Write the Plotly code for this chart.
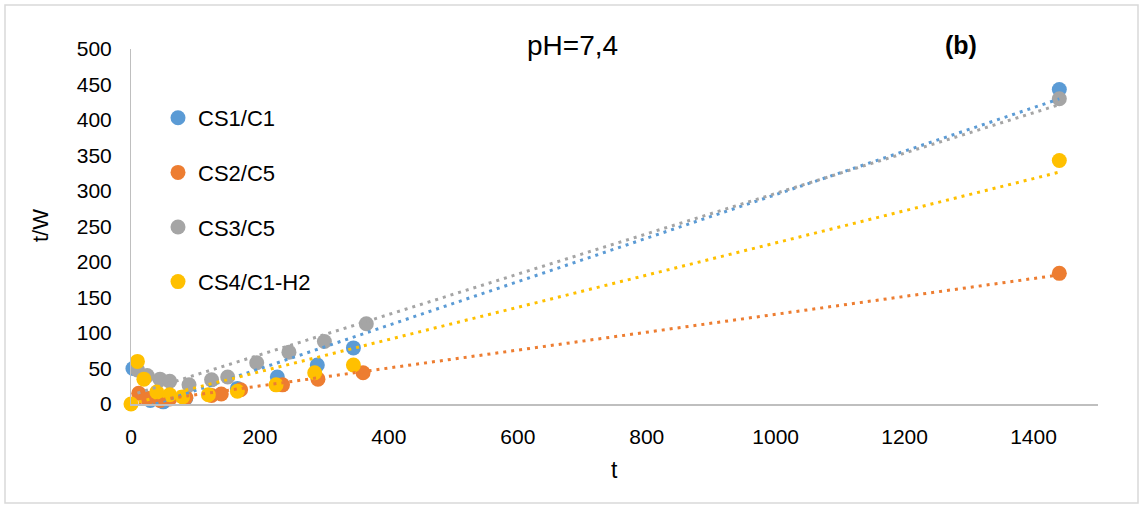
import numpy as np
import plotly.graph_objects as go

# t (min) and t/W values for each coating series
series_names = ["CS1/C1", "CS2/C5", "CS3/C5", "CS4/C1-H2"]
series_colors = ["#5B9BD5", "#ED7D31", "#A5A5A5", "#FFC000"]

t_cs1 = [3, 30, 50, 85, 165, 227, 289, 345, 1440]
w_cs1 = [50, 5, 3, 8, 22, 38, 55, 79, 443]

t_cs2 = [12, 25, 45, 60, 85, 125, 140, 170, 235, 290, 360, 1440]
w_cs2 = [15, 8, 5, 7, 9, 12, 14, 20, 27, 35, 44, 184]

t_cs3 = [10, 25, 45, 60, 90, 125, 150, 195, 245, 300, 365, 1440]
w_cs3 = [48, 40, 35, 32, 27, 34, 38, 58, 73, 88, 113, 430]

t_cs4 = [0, 10, 20, 40, 60, 80, 120, 165, 225, 285, 345, 1440]
w_cs4 = [0, 60, 35, 17, 13, 10, 13, 18, 27, 44, 55, 343]

x_ticks = [0, 200, 400, 600, 800, 1000, 1200, 1400]
y_ticks = [0, 50, 100, 150, 200, 250, 300, 350, 400, 450, 500]

all_t = [t_cs1, t_cs2, t_cs3, t_cs4]
all_w = [w_cs1, w_cs2, w_cs3, w_cs4]

W, H = 1144, 508
L, R, T, B = 131, 46, 49, 104
pw, ph = W - L - R, H - T - B


def px_x(p):
    return (p - L) / pw


def px_y(p):
    return (H - B - p) / ph


FONT = "Liberation Sans, Arial, sans-serif"

fig = go.Figure()

# markers
for name, col, t, w in zip(series_names, series_colors, all_t, all_w):
    fig.add_trace(go.Scatter(
        x=t, y=w, mode="markers", name=name,
        legendgroup=name,
        marker=dict(size=15, color=col, line=dict(width=0)),
        cliponaxis=False,
    ))

# linear least-squares trendlines, drawn over the markers
for name, col, t, w in zip(series_names, series_colors, all_t, all_w):
    ta = np.asarray(t, dtype=float)
    wa = np.asarray(w, dtype=float)
    slope, icpt = np.polyfit(ta, wa, 1)
    tx = np.array([ta.min(), ta.max()])
    fig.add_trace(go.Scatter(
        x=tx, y=slope * tx + icpt, mode="lines", showlegend=False,
        legendgroup=name, hoverinfo="skip",
        line=dict(color=col, width=3, dash="3px,5px"),
    ))

fig.update_layout(
    width=W, height=H, autosize=False,
    margin=dict(l=L, r=R, t=T, b=B, pad=0),
    paper_bgcolor="white", plot_bgcolor="white",
    font=dict(family=FONT, size=21, color="#000000"),
    xaxis=dict(
        range=[0, 1500], tickvals=x_ticks, ticktext=[str(v) for v in x_ticks],
        showgrid=False, zeroline=False, showline=True,
        linecolor="#BFBFBF", linewidth=1.5, ticks="",
        ticklabelstandoff=13, tickfont=dict(size=21),
    ),
    yaxis=dict(
        range=[0, 500], tickvals=y_ticks, ticktext=[str(v) for v in y_ticks],
        showgrid=False, zeroline=False, showline=True,
        linecolor="#BFBFBF", linewidth=1, ticks="",
        ticklabelstandoff=14, tickfont=dict(size=21),
    ),
    legend=dict(
        x=px_x(158), y=px_y(97), xanchor="left", yanchor="top",
        bgcolor="rgba(0,0,0,0)", borderwidth=0,
        font=dict(size=22), traceorder="grouped", tracegroupgap=23,
        itemwidth=30,
    ),
    shapes=[dict(
        type="rect", xref="paper", yref="paper",
        x0=px_x(5), x1=px_x(1138), y0=px_y(503), y1=px_y(5),
        line=dict(color="#D9D9D9", width=1.5), layer="below",
    )],
    annotations=[
        dict(text="pH=7,4", x=px_x(572), y=px_y(45), xref="paper", yref="paper",
             showarrow=False, font=dict(size=28), xanchor="center", yanchor="middle"),
        dict(text="<b>(b)</b>", x=px_x(961), y=px_y(45), xref="paper", yref="paper",
             showarrow=False, font=dict(size=25), xanchor="center", yanchor="middle"),
        dict(text="t/W", x=px_x(40), y=px_y(226), xref="paper", yref="paper",
             showarrow=False, textangle=-90, font=dict(size=22),
             xanchor="center", yanchor="middle"),
        dict(text="t", x=px_x(614), y=px_y(470), xref="paper", yref="paper",
             showarrow=False, font=dict(size=23), xanchor="center", yanchor="middle"),
    ],
)

fig.write_html("out.html")
